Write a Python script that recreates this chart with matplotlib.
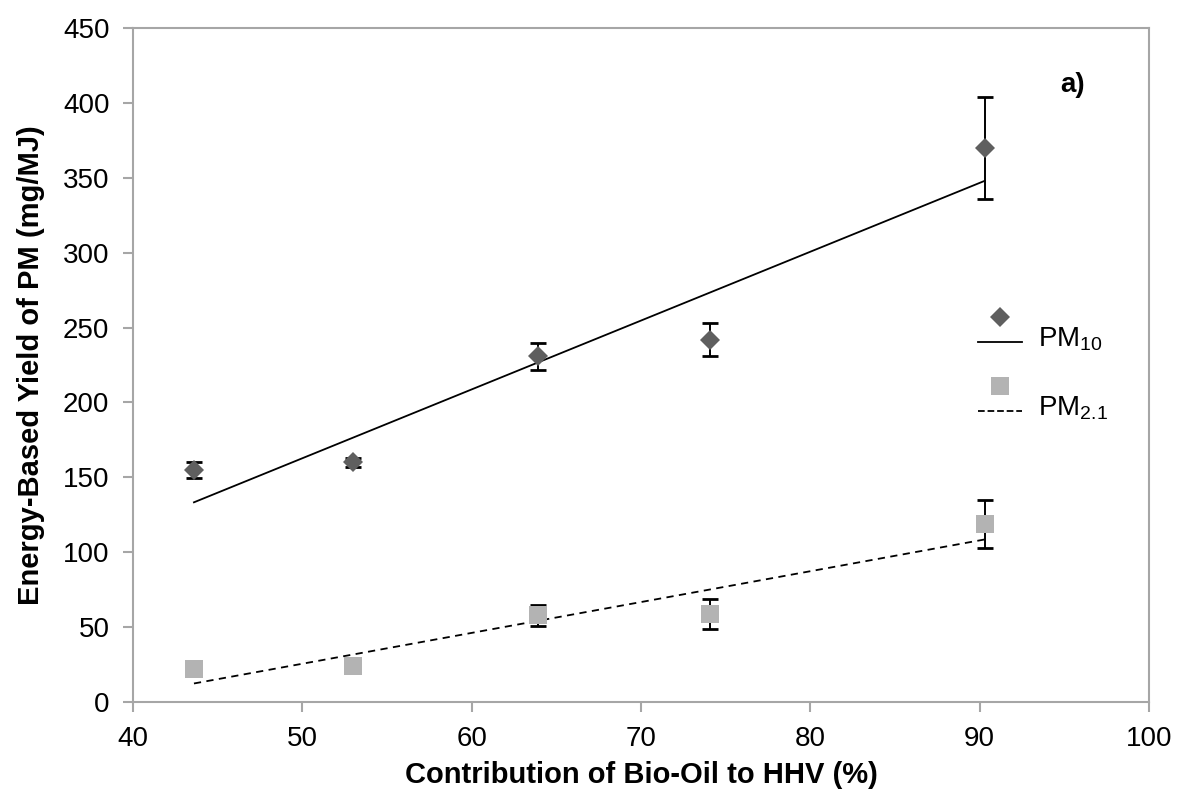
import numpy as np
import matplotlib
matplotlib.use("Agg")
import matplotlib.pyplot as plt
from matplotlib.lines import Line2D
from matplotlib.legend_handler import HandlerBase

plt.rcParams['font.family'] = ['Liberation Sans', 'DejaVu Sans']
plt.rcParams['mathtext.fontset'] = 'custom'
plt.rcParams['mathtext.rm'] = 'Liberation Sans'
plt.rcParams['mathtext.default'] = 'regular'

# bio-oil share of HHV (%) and energy based PM yields (mg/MJ)
bio_oil = [43.6, 53.0, 63.9, 74.1, 90.3]
pm10 = [155, 160, 231, 242, 370]
pm10_err = [5.5, 3, 9, 11, 34]
pm21 = [22, 24, 58, 59, 119]
pm21_err = [2, 2, 7, 10, 16]

grey = '#a6a6a6'


class MarkerAboveLine(HandlerBase):
    # excel style legend key: marker sits above the trend line sample
    def create_artists(self, legend, orig_handle, xdescent, ydescent,
                       width, height, fontsize, trans):
        mk, ln = orig_handle
        y0 = height / 2 - ydescent - 3
        line = Line2D([-xdescent, -xdescent + width], [y0, y0],
                      color=ln.get_color(), linestyle=ln.get_linestyle(),
                      linewidth=ln.get_linewidth())
        dot = Line2D([-xdescent + width / 2], [y0 + 18], marker=mk.get_marker(),
                     markersize=mk.get_markersize(), color=mk.get_markerfacecolor(),
                     linestyle='none', markeredgewidth=0)
        line.set_transform(trans)
        dot.set_transform(trans)
        return [line, dot]


fig = plt.figure(figsize=(11.79, 7.91), dpi=100)
ax = fig.add_axes([0.1128, 0.1125, 0.8618, 0.8521])

x = np.array(bio_oil)

# linear trend lines through each series
for y, ls in ((pm10, '-'), (pm21, (0, (4, 3)))):
    k, b = np.polyfit(x, y, 1)
    ax.plot([x[0], x[-1]], [k * x[0] + b, k * x[-1] + b], color='black',
            linestyle=ls, linewidth=1.3)

ax.errorbar(x, pm10, yerr=pm10_err, fmt='none', ecolor='black',
            elinewidth=1.4, capsize=5.5, capthick=2)
ax.errorbar(x, pm21, yerr=pm21_err, fmt='none', ecolor='black',
            elinewidth=1.4, capsize=5.5, capthick=2)
d1, = ax.plot(x, pm10, linestyle='none', marker='D', markersize=10.5,
              color='#5f5f5f', markeredgewidth=0)
s1, = ax.plot(x, pm21, linestyle='none', marker='s', markersize=13,
              color='#b3b3b3', markeredgewidth=0)

ax.set_xlim(40, 100)
ax.set_ylim(0, 450)
ax.set_xticks(np.arange(40, 101, 10))
ax.set_yticks(np.arange(0, 451, 50))
ax.tick_params(direction='out', length=7, width=1.5, color=grey,
               labelsize=20, pad=10)
for sp in ax.spines.values():
    sp.set_color(grey)
    sp.set_linewidth(1.5)

ax.set_xlabel('Contribution of Bio-Oil to HHV (%)', fontsize=21,
              fontweight='bold', labelpad=7)
ax.set_ylabel('Energy-Based Yield of PM (mg/MJ)', fontsize=21,
              fontweight='bold', labelpad=13)

ax.text(0.925, 0.915, 'a)', transform=ax.transAxes, fontsize=20,
        fontweight='bold', ha='center', va='center')

ln10 = Line2D([], [], color='black', linestyle='-', linewidth=1.3)
ln21 = Line2D([], [], color='black', linestyle=(0, (4, 3)), linewidth=1.3)
ax.legend([(d1, ln10), (s1, ln21)], ['PM$_{10}$', 'PM$_{2.1}$'],
          handler_map={tuple: MarkerAboveLine()}, loc='center left',
          bbox_to_anchor=(0.818, 0.4895), frameon=False, fontsize=20,
          handlelength=1.6, handleheight=1.8, handletextpad=0.55,
          labelspacing=1.06, borderpad=0)

fig.savefig('out.png', dpi=100)
